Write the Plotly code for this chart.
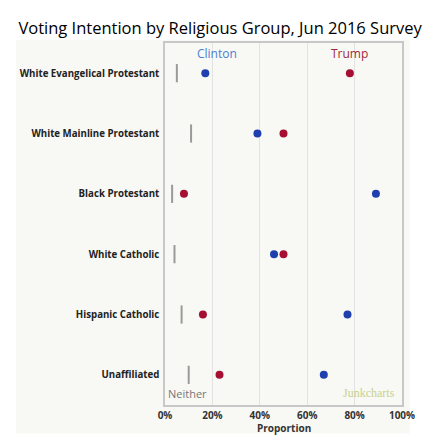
import plotly.graph_objects as go

groups = ["White Evangelical Protestant", "White Mainline Protestant", "Black Protestant",
          "White Catholic", "Hispanic Catholic", "Unaffiliated"]
clinton = [0.17, 0.39, 0.89, 0.46, 0.77, 0.67]
trump = [0.78, 0.50, 0.08, 0.50, 0.16, 0.23]
neither = [0.05, 0.11, 0.03, 0.04, 0.07, 0.10]
ticks = [0, 0.2, 0.4, 0.6, 0.8, 1.0]
tick_text = ["0%", "20%", "40%", "60%", "80%", "100%"]

BLUE = "#1f3fae"
RED = "#a50f32"
GREY = "#9a9a9a"

fig = go.Figure()

fig.add_trace(go.Scatter(x=neither, y=groups, mode="markers", name="Neither",
                         marker=dict(symbol="line-ns", size=13, line=dict(width=2, color=GREY))))
fig.add_trace(go.Scatter(x=clinton, y=groups, mode="markers", name="Clinton",
                         marker=dict(size=8, color=BLUE)))
fig.add_trace(go.Scatter(x=trump, y=groups, mode="markers", name="Trump",
                         marker=dict(size=8, color=RED)))

# light backdrop behind the chart panel
fig.add_shape(type="rect", xref="paper", yref="paper", x0=-0.628, x1=1.033, y0=-0.078, y1=1.008,
              fillcolor="#f8f8f4", line=dict(width=0), layer="below")

labels = [
    (0.218, 0.972, "Clinton", "Open Sans", 12, "#4a7fd4"),
    (0.78, 0.972, "Trump", "Open Sans", 12, "#a0283c"),
    (0.096, 0.033, "Neither", "Open Sans", 11, "#777777"),
    (0.86, 0.033, "Junkcharts", "Liberation Serif", 12, "#c9d18f"),
]
for x, y, txt, fam, sz, col in labels:
    fig.add_annotation(x=x, y=y, xref="x", yref="paper", text=txt, showarrow=False,
                       xanchor="center", yanchor="middle", font=dict(family=fam, size=sz, color=col))

fig.add_annotation(x=0.5, y=-0.064, xref="paper", yref="paper", text="Proportion", showarrow=False,
                   xanchor="center", yanchor="middle",
                   font=dict(family="Open Sans", size=10, color="#333333", weight="bold"))

# page body has an 8px margin, so the figure is sized to fit inside the window
fig.update_layout(
    width=425, height=438,
    margin=dict(l=155, r=31, t=35, b=41),
    paper_bgcolor="white", plot_bgcolor="white",
    showlegend=False,
    title=dict(text="Voting Intention by Religious Group, Jun 2016 Survey", x=0.499, xref="container",
               y=0.954, yref="container", xanchor="center", yanchor="middle",
               font=dict(family="Open Sans", size=16.5, color="black")),
    xaxis=dict(range=[0, 1], tickvals=ticks, ticktext=tick_text, showgrid=True, gridcolor="#e2e2e2",
               gridwidth=1, zeroline=False, showline=True, linecolor="#c8c8c8", linewidth=1.5, mirror=True,
               ticks="", ticklabelstandoff=0,
               tickfont=dict(family="Open Sans", size=10, color="#333333", weight="bold")),
    yaxis=dict(categoryorder="array", categoryarray=groups, range=[5.5, -0.5], showgrid=False,
               zeroline=False, showline=True, linecolor="#c8c8c8", linewidth=1.5, mirror=True, ticks="",
               ticklabelstandoff=2,
               tickfont=dict(family="Open Sans", size=9.7, color="#222222", weight="bold")),
)

fig.write_html("out.html")
